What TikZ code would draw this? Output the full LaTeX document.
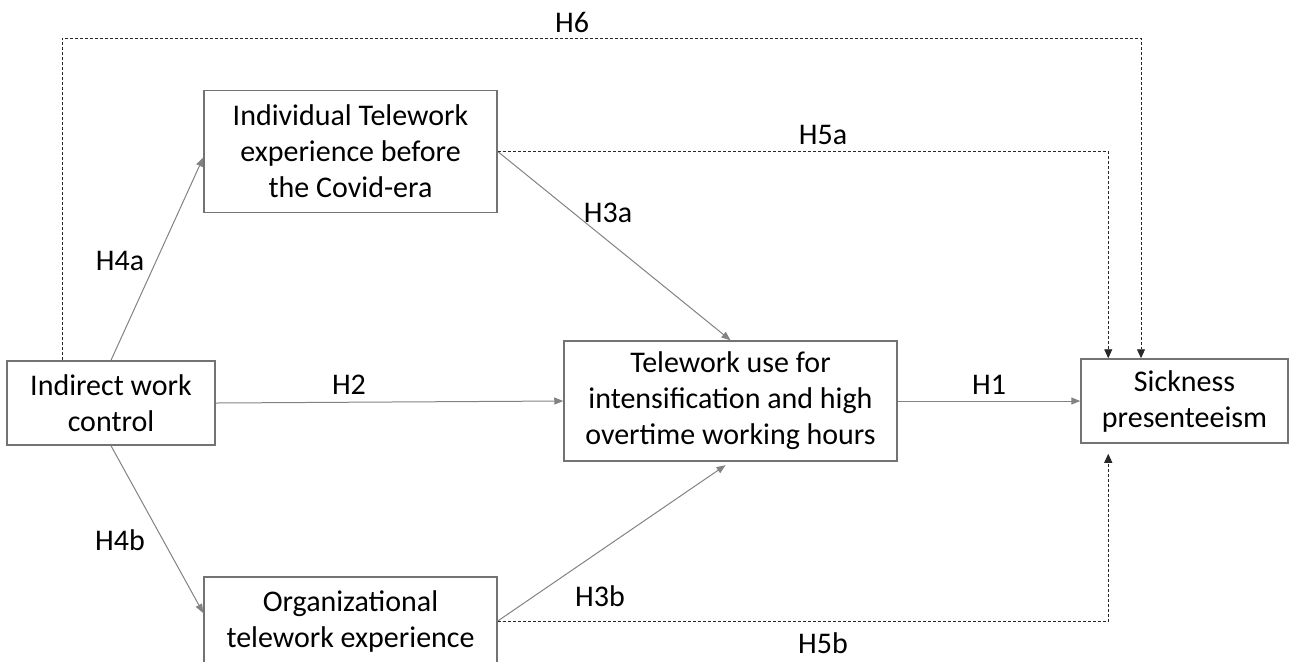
\documentclass[tikz,border=0pt]{standalone}
\usepackage{fontspec}
\setmainfont{Carlito}
\usetikzlibrary{arrows.meta,positioning,calc}
\definecolor{BoxGray}{RGB}{115,115,115}
\definecolor{LinkGray}{RGB}{130,130,130}
\definecolor{DotBlack}{RGB}{40,40,40}

\begin{document}
\begin{tikzpicture}[x=0.5pt,y=-0.5pt,>=Latex,
  box/.style={draw=BoxGray,line width=0.75pt,align=center,inner sep=0pt,
    font=\fontsize{15}{18}\selectfont},
  hyp/.style={font=\fontsize{15}{18}\selectfont,inner sep=0pt},
  link/.style={draw=LinkGray,line width=0.5pt,-{Triangle[length=4.5pt,width=3.5pt]}},
  dotlink/.style={draw=DotBlack,line width=0.45pt,dash pattern=on 1.5pt off 1pt,
    -{Triangle[length=4.5pt,width=4pt]}}]
  \useasboundingbox (0,0) rectangle (1290,661);
  \clip (0,0) rectangle (1290,661);
  % constructs
  \node[box,minimum width=104pt,minimum height=42pt] (ind) at (111,403) {Indirect work\\control};
  \node[box,minimum width=146.5pt,minimum height=61pt] (indiv) at (350.5,151.5)
    {Individual Telework\\experience before\\the Covid-era};
  \node[box,minimum width=166.5pt,minimum height=60pt] (tele) at (730.5,401)
    {Telework use for\\intensification and high\\overtime working hours};
  \node[box,minimum width=146.5pt,minimum height=44pt] (org) at (350.5,621)
    {Organizational\\telework experience};
  \node[box,minimum width=103.5pt,minimum height=42pt] (sick) at (1184.5,401)
    {Sickness\\presenteeism};
  % hypotheses
  \node[hyp] (h6) at (572,22) {H6};
  \node[hyp] (h5a) at (823,135) {H5a};
  \node[hyp] (h3a) at (608,213) {H3a};
  \node[hyp] (h4a) at (120,261) {H4a};
  \node[hyp] (h2) at (349,385) {H2};
  \node[hyp] (h1) at (989,385) {H1};
  \node[hyp] (h4b) at (120,540) {H4b};
  \node[hyp] (h3b) at (600,596) {H3b};
  \node[hyp] (h5b) at (823,643) {H5b};
  % direct paths
  \draw[link] (ind.north) -- ([yshift=-3pt]indiv.west);
  \draw[link] (ind.south) -- ([yshift=4pt]org.west);
  \draw[link] (ind.east) -- (tele.west);
  \draw[link] (tele.east) -- (sick.west);
  \draw[link] (indiv.east) -- (tele.north);
  \draw[link,shorten >=3pt] (org.east) -- (tele.south);
  % dotted paths
  \coordinate (topline) at (1141,38);
  \draw[dotlink] ([xshift=28pt]ind.north west) |- (topline) -- (topline |- sick.north);
  \draw[dotlink] (indiv.east) -| ([xshift=14pt]sick.north west);
  \draw[dotlink,shorten >=5pt] (org.east) -| ([xshift=14pt]sick.south west);
\end{tikzpicture}
\end{document}
